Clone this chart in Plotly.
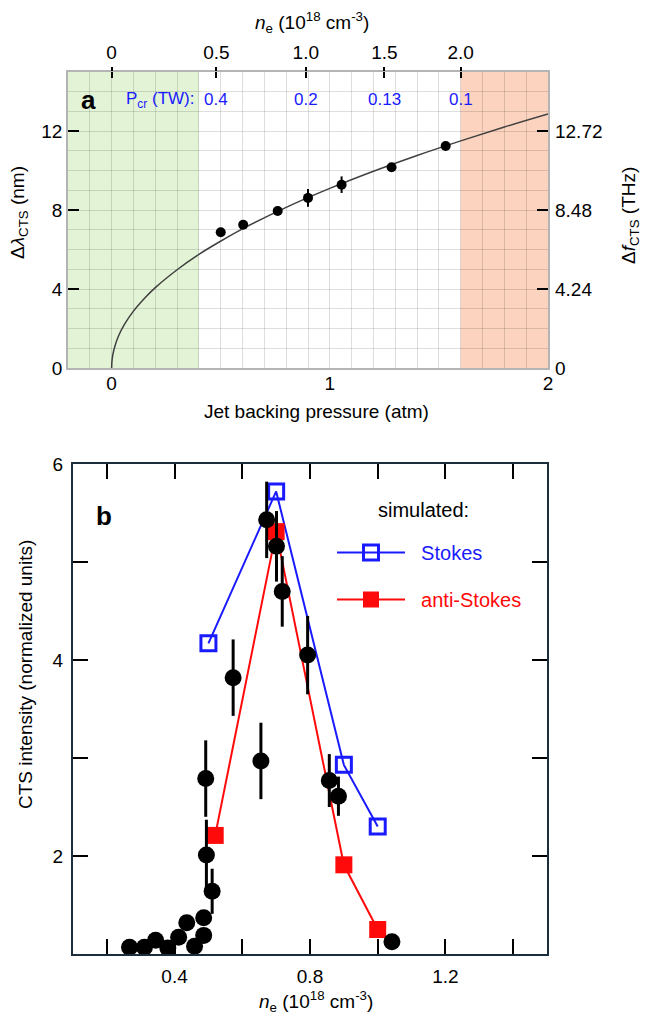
import plotly.graph_objects as go

# ---------------- Panel a data ----------------
P_DATA = [0.50, 0.603, 0.761, 0.90, 1.054, 1.283, 1.531]
DL_DATA = [6.88, 7.26, 7.96, 8.62, 9.29, 10.17, 11.25]
DL_ERR = [0.0, 0.0, 0.12, 0.45, 0.42, 0.08, 0.08]

P_FIT = [0, 0.002, 0.01, 0.03, 0.06, 0.1, 0.15, 0.2, 0.3, 0.4, 0.5, 0.6, 0.8, 1.0, 1.2, 1.4, 1.6, 1.8, 2.0]
DL_FIT = [0, 0.41, 0.91, 1.58, 2.23, 2.88, 3.52, 4.07, 4.98, 5.76, 6.43, 7.05, 8.14, 9.10, 9.97, 10.77, 11.51, 12.21, 12.87]

GREEN_ZONE = [-0.2, 0.4]
ORANGE_ZONE = [1.6, 2.0]

NE_TICK_POS = [0.0, 0.48, 0.89, 1.25, 1.60]
NE_TICK_TEXT = ["0", "0.5", "1.0", "1.5", "2.0"]
PCR_POS = [0.48, 0.89, 1.25, 1.60]
PCR_TEXT = ["0.4", "0.2", "0.13", "0.1"]

DF_TICKS = [0, 4.24, 8.48, 12.72]
DF_TEXT = ["0", "4.24", "8.48", "12.72"]

# ---------------- Panel b data ----------------
NE_EXP = [0.267, 0.311, 0.344, 0.380, 0.412, 0.436, 0.459, 0.486, 0.486, 0.494, 0.492, 0.511,
          0.573, 0.655, 0.672, 0.701, 0.718, 0.793, 0.857, 0.884, 1.042]
I_EXP = [1.07, 1.07, 1.14, 1.06, 1.17, 1.32, 1.08, 1.37, 1.19, 2.01, 2.79, 1.64,
         3.82, 2.97, 5.43, 5.16, 4.70, 4.05, 2.77, 2.61, 1.125]
I_ERR = [0, 0, 0, 0, 0, 0, 0, 0, 0, 0.36, 0.39, 0.23,
         0.39, 0.39, 0.39, 0.36, 0.36, 0.40, 0.27, 0.20, 0]

NE_STOKES = [0.50, 0.70, 0.90, 1.00]
I_STOKES = [4.17, 5.72, 2.93, 2.30]
NE_ANTI = [0.52, 0.70, 0.90, 1.00]
I_ANTI = [2.21, 5.31, 1.91, 1.25]

XB_TICKS = [0.2, 0.4, 0.6, 0.8, 1.0, 1.2, 1.4]
XB_TEXT = ["", "0.4", "", "0.8", "", "1.2", ""]
YB_TICKS = [2, 3, 4, 5, 6]
YB_TEXT = ["2", "", "4", "", "6"]

FONT = "Arial, Liberation Sans, sans-serif"
GRID = "rgba(0,0,0,0.13)"
BLUE = "#1a1aff"
RED = "#ff0a0a"
FRAME_B = "#1c2e3c"

fig = go.Figure()

# fit curve
fig.add_trace(go.Scatter(x=P_FIT, y=DL_FIT, mode="lines", line=dict(color="#404040", width=1.5, shape="spline"),
                         xaxis="x", yaxis="y", showlegend=False, hoverinfo="skip"))
# data
fig.add_trace(go.Scatter(x=P_DATA, y=DL_DATA, mode="markers",
                         marker=dict(color="black", size=10),
                         error_y=dict(type="data", array=DL_ERR, color="black", thickness=2, width=0),
                         xaxis="x", yaxis="y", showlegend=False))
# helper traces for overlay axes
fig.add_trace(go.Scatter(x=[None], y=[None], xaxis="x2", yaxis="y", showlegend=False, hoverinfo="skip"))
fig.add_trace(go.Scatter(x=[None], y=[None], xaxis="x4", yaxis="y", showlegend=False, hoverinfo="skip"))
fig.add_trace(go.Scatter(x=[None], y=[None], xaxis="x", yaxis="y2", showlegend=False, hoverinfo="skip"))

# panel b
fig.add_trace(go.Scatter(x=NE_STOKES, y=I_STOKES, mode="lines+markers",
                         name="<span style='color:%s'>&nbsp;&nbsp;Stokes</span>" % BLUE,
                         line=dict(color=BLUE, width=2),
                         marker=dict(symbol="square-open", size=15, color=BLUE, line=dict(width=3, color=BLUE)),
                         xaxis="x3", yaxis="y3", legendgroup="s"))
fig.add_trace(go.Scatter(x=NE_ANTI, y=I_ANTI, mode="lines+markers",
                         name="<span style='color:%s'>&nbsp;&nbsp;anti-Stokes</span>" % RED,
                         line=dict(color=RED, width=2),
                         marker=dict(symbol="square", size=17, color=RED),
                         xaxis="x3", yaxis="y3", legendgroup="a"))
fig.add_trace(go.Scatter(x=NE_EXP, y=I_EXP, mode="markers",
                         marker=dict(color="black", size=17),
                         error_y=dict(type="data", array=I_ERR, color="black", thickness=3, width=0),
                         xaxis="x3", yaxis="y3", showlegend=False))

# shaded regions
fig.add_shape(type="rect", xref="x", yref="y domain", x0=GREEN_ZONE[0], x1=GREEN_ZONE[1], y0=0, y1=1,
              fillcolor="#e2f3d6", line=dict(width=0), layer="below")
fig.add_shape(type="rect", xref="x", yref="y domain", x0=ORANGE_ZONE[0], x1=ORANGE_ZONE[1], y0=0, y1=1,
              fillcolor="#fcd3be", line=dict(width=0), layer="below")

tickfont = dict(family=FONT, size=19, color="black")

# page has an 8px body margin; the figure is sized to fit the 649x1024 window exactly
fig.update_layout(
    width=633, height=1008, margin=dict(l=0, r=0, t=0, b=0, pad=0, autoexpand=False),
    paper_bgcolor="white", plot_bgcolor="rgba(0,0,0,0)",
    font=dict(family=FONT, size=19, color="black"),
    xaxis=dict(domain=[0.09479, 0.85308], anchor="y", range=[-0.2, 2], tick0=0, dtick=1,
               showgrid=True, gridcolor=GRID, gridwidth=1,
               minor=dict(dtick=0.1, showgrid=True, gridcolor=GRID, gridwidth=1, ticks=""),
               showline=True, linecolor="#b4b4b4", linewidth=1.5, mirror=True, automargin=False,
               ticks="", zeroline=False, tickfont=tickfont, ticklabelstandoff=-3),
    yaxis=dict(domain=[0.64286, 0.93651], anchor="x", range=[0, 15], tick0=0, dtick=4,
               showgrid=True, gridcolor=GRID, gridwidth=1,
               minor=dict(dtick=1, showgrid=True, gridcolor=GRID, gridwidth=1, ticks=""),
               showline=True, linecolor="#b4b4b4", linewidth=1.5, mirror=True, automargin=False,
               ticks="inside", ticklen=11, tickwidth=2, tickcolor="black", zeroline=False, tickfont=tickfont),
    yaxis2=dict(overlaying="y", side="right", anchor="x", range=[0, 15.9], tickvals=DF_TICKS, ticktext=DF_TEXT,
                ticks="inside", ticklen=11, tickwidth=2, tickcolor="black", showgrid=False, zeroline=False,
                showline=False, tickfont=tickfont, ticklabelstandoff=6, automargin=False),
    xaxis2=dict(overlaying="x", side="top", anchor="y", range=[-0.2, 2], tickvals=NE_TICK_POS, ticktext=NE_TICK_TEXT,
                ticks="inside", ticklen=6, tickwidth=2, tickcolor="black", showgrid=False, zeroline=False,
                showline=False, tickfont=tickfont, ticklabelstandoff=8, automargin=False),
    xaxis4=dict(overlaying="x", side="top", anchor="y", range=[-0.2, 2], tickvals=NE_TICK_POS,
                ticks="outside", ticklen=4, tickwidth=2, tickcolor="black", showgrid=False, zeroline=False,
                showline=False, showticklabels=False, automargin=False),
    xaxis3=dict(domain=[0.10269, 0.85150], anchor="y3", range=[0.1, 1.5], tickvals=XB_TICKS, ticktext=XB_TEXT,
                ticks="inside", ticklen=15, tickwidth=2, tickcolor="black", mirror="ticks", automargin=False,
                showline=True, linecolor=FRAME_B, linewidth=2, showgrid=False, zeroline=False, tickfont=tickfont,
                ticklabelstandoff=4),
    yaxis3=dict(domain=[0.06151, 0.54762], anchor="x3", range=[1, 6], tickvals=YB_TICKS, ticktext=YB_TEXT,
                ticks="inside", ticklen=15, tickwidth=2, tickcolor="black", mirror="ticks", automargin=False,
                showline=True, linecolor=FRAME_B, linewidth=2, showgrid=False, zeroline=False, tickfont=tickfont,
                ticklabelstandoff=4),
    legend=dict(x=0.51185, y=0.47917, xanchor="left", yanchor="top", bgcolor="rgba(0,0,0,0)",
                font=dict(family=FONT, size=20), itemwidth=68, tracegroupgap=18),
)

C = dict(xanchor="center", yanchor="middle", showarrow=False)
ann = []
# axis titles
ann.append(dict(text="<i>n</i><sub>e</sub> (10<sup>18</sup> cm<sup>-3</sup>)", x=0.48025, y=0.98611,
                xref="paper", yref="paper", font=dict(size=19), **C))
ann.append(dict(text="Jet backing pressure (atm)", x=0.48815, y=0.59921, xref="paper", yref="paper",
                font=dict(size=19), **C))
ann.append(dict(text="Δ<i>λ</i><sub>CTS</sub> (nm)", x=0.01738, y=0.79663, xref="paper", yref="paper",
                textangle=-90, font=dict(size=19), **C))
ann.append(dict(text="Δ<i>f</i><sub>CTS</sub> (THz)", x=0.98262, y=0.79464, xref="paper", yref="paper",
                textangle=-90, font=dict(size=19), **C))
ann.append(dict(text="<i>n</i><sub>e</sub> (10<sup>18</sup> cm<sup>-3</sup>)", x=0.48657, y=0.0139,
                xref="paper", yref="paper", font=dict(size=19), **C))
ann.append(dict(text="CTS intensity (normalized units)", x=0.02686, y=0.33829, xref="paper", yref="paper",
                textangle=-90, font=dict(size=19), **C))
# legend heading
ann.append(dict(text="simulated:", x=0.65561, y=0.50198, xref="paper", yref="paper",
                font=dict(size=20), **C))
# panel labels
ann.append(dict(text="<b>a</b>", x=-0.105, y=13.6, xref="x", yref="y", font=dict(size=26), **C))
ann.append(dict(text="<b>b</b>", x=0.193, y=5.47, xref="x3", yref="y3", font=dict(size=26), **C))
# Pcr labels
ann.append(dict(text="P<sub>cr</sub> (TW):", x=0.22, y=13.6, xref="x", yref="y",
                font=dict(size=17, color=BLUE), **C))
for xp, t in zip(PCR_POS, PCR_TEXT):
    ann.append(dict(text=t, x=xp, y=13.6, xref="x", yref="y", font=dict(size=17, color=BLUE), **C))
fig.update_layout(annotations=ann)

fig.write_html("out.html")
